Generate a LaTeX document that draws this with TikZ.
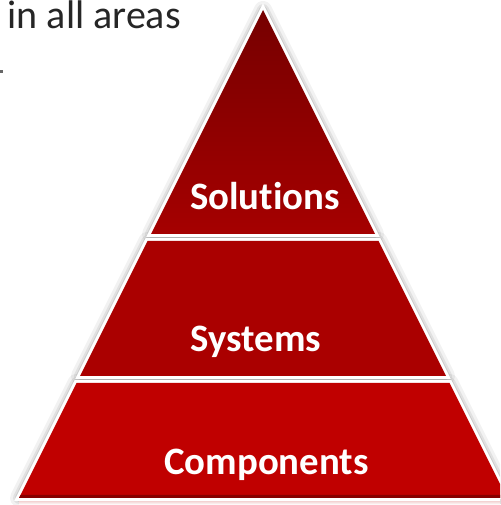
\documentclass[tikz,border=0pt]{standalone}
\usepackage{fontspec}
\setmainfont{Carlito}[Ligatures=NoCommon]
\definecolor{topdark}{RGB}{118,0,0}
\definecolor{toplight}{RGB}{165,0,0}
\definecolor{midred}{RGB}{170,0,0}
\definecolor{botred}{RGB}{192,0,0}
\definecolor{botdark}{RGB}{135,0,0}
\definecolor{txtgray}{RGB}{38,38,38}
\definecolor{pinkref}{RGB}{238,190,190}
\begin{document}
\begin{tikzpicture}[x=1pt,y=1pt,
  lbl/.style={text=white,font=\fontsize{38.8}{40}\selectfont\bfseries,inner sep=0pt,anchor=base},
  shadowA/.style={draw=black,opacity=0.05,line width=18pt,line join=round},
  shadowB/.style={draw=black,opacity=0.07,line width=12pt,line join=round},
  shadowC/.style={draw=black,opacity=0.09,line width=8pt,line join=round},
  whiteedge/.style={draw=white,line width=6pt,line join=miter}]
\useasboundingbox (0,0) rectangle (500,505);
\clip (0,0) rectangle (500,505);
% coordinates of the three levels
\coordinate (apex) at (263,495);
\coordinate (tl) at (151,271);
\coordinate (tr) at (375,271);
\coordinate (mtl) at (147.5,264);
\coordinate (mtr) at (378.5,264);
\coordinate (mbr) at (446,129);
\coordinate (mbl) at (80,129);
\coordinate (btl) at (76.5,122);
\coordinate (btr) at (449.5,122);
\coordinate (bbr) at (507,7);
\coordinate (bbl) at (19,7);
% soft shadows
\foreach \s in {shadowA,shadowB,shadowC}{
  \path[\s] (apex) -- (tr) -- (tl) -- cycle;
  \path[\s] (mtl) -- (mtr) -- (mbr) -- (mbl) -- cycle;
  \path[\s] (btl) -- (btr) -- (bbr) -- (bbl) -- cycle;
}
% reflection under the base
\fill[top color=pinkref,bottom color=white] (19,0.5) rectangle (507,5.5);
% white outlines
\path[whiteedge] (apex) -- (tr) -- (tl) -- cycle;
\path[whiteedge] (mtl) -- (mtr) -- (mbr) -- (mbl) -- cycle;
\path[whiteedge] (btl) -- (btr) -- (bbr) -- (bbl) -- cycle;
% fills
\shade[top color=topdark,bottom color=toplight] (apex) -- (tr) -- (tl) -- cycle;
\fill[midred] (mtl) -- (mtr) -- (mbr) -- (mbl) -- cycle;
\fill[botred] (btl) -- (btr) -- (bbr) -- (bbl) -- cycle;
\fill[botdark] (bbl) -- (bbr) -- (505.5,10) -- (20.5,10) -- cycle;
% labels
\node[lbl] (sol) at (265,295) {Solutions};
\node[lbl] (sys) at (256,153) {Systems};
\node[lbl] (com) at (266.5,30) {Components};
% heading fragment
\node[text=txtgray,font=\fontsize{40}{42}\selectfont,inner sep=0pt,anchor=base east] (head) at (181,476.5) {in all areas};
\fill[txtgray!70] (0,432) rectangle (2.5,434.5);
\end{tikzpicture}
\end{document}
